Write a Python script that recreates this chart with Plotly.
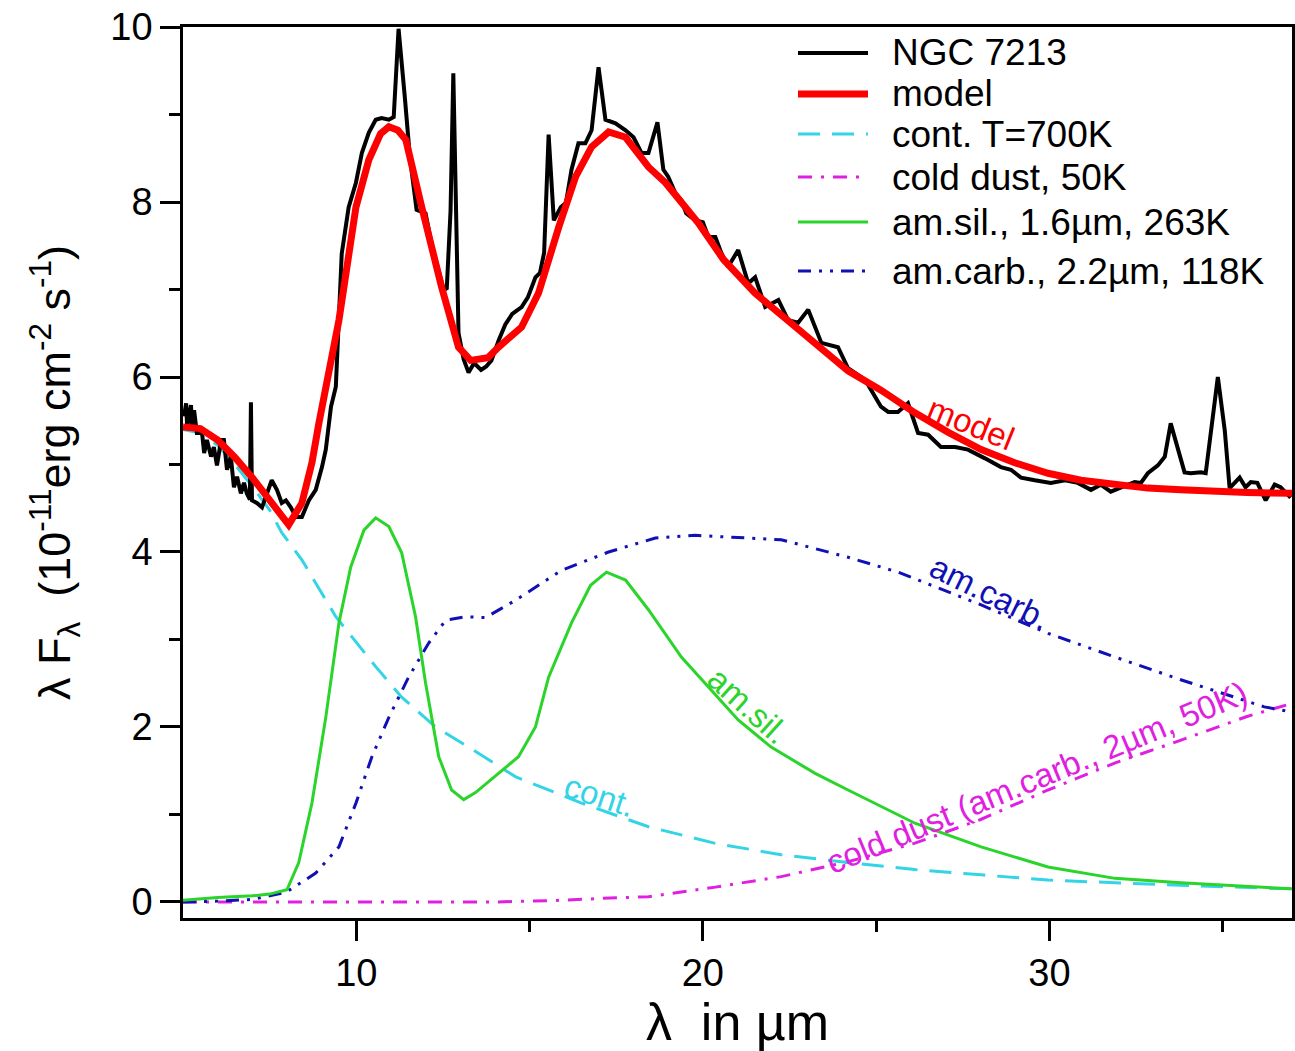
import plotly.graph_objects as go

# ---------------- data ----------------
obs_x = [5.03, 5.09, 5.12, 5.23, 5.27, 5.32, 5.40, 5.55, 5.61, 5.69, 5.81, 5.89, 5.98, 6.10,
         6.18, 6.27, 6.38, 6.47, 6.56, 6.67, 6.76, 6.84, 6.93, 6.96, 6.99, 7.13, 7.28, 7.42,
         7.56, 7.71, 7.85, 7.97, 8.11, 8.26, 8.43, 8.63, 8.83, 9.01, 9.12, 9.27, 9.41, 9.58,
         9.78, 9.99, 10.16, 10.36, 10.56, 10.73, 10.94, 11.08, 11.22, 11.40, 11.55, 11.74,
         12.00, 12.18, 12.38, 12.50, 12.61, 12.72, 12.80, 12.87, 12.95, 13.10, 13.24, 13.40,
         13.60, 13.75, 13.90, 14.11, 14.30, 14.50, 14.77, 14.95, 15.17, 15.30, 15.42, 15.55,
         15.70, 15.90, 16.05, 16.21, 16.41, 16.61, 16.79, 16.99, 17.19, 17.48, 17.77, 18.00,
         18.23, 18.43, 18.69, 18.86, 19.00, 19.21, 19.38, 19.52, 19.78, 20.00, 20.16, 20.36,
         20.53, 20.73, 21.02, 21.31, 21.51, 21.80, 22.18, 22.46, 22.75, 23.04, 23.42, 23.90,
         24.19, 24.68, 25.14, 25.35, 25.63, 25.92, 26.21, 26.50, 26.87, 27.28, 27.65, 28.14,
         28.60, 28.89, 29.18, 29.58, 30.04, 30.45, 30.82, 31.20, 31.48, 31.77, 32.06, 32.46,
         32.64, 32.84, 33.13, 33.33, 33.50, 33.70, 33.90, 34.08, 34.37, 34.51, 34.86, 35.06,
         35.20, 35.49, 35.66, 35.81, 36.00, 36.24, 36.50, 36.67, 36.96]
obs_y = [5.55, 5.70, 5.43, 5.68, 5.39, 5.62, 5.36, 5.36, 5.13, 5.28, 5.09, 5.20, 4.99, 5.28,
         5.28, 4.94, 5.09, 4.74, 4.86, 4.67, 4.79, 4.67, 4.60, 5.71, 4.59, 4.56, 4.51, 4.67,
         4.82, 4.71, 4.56, 4.59, 4.51, 4.40, 4.40, 4.59, 4.71, 4.97, 5.17, 5.66, 5.89, 7.41,
         7.94, 8.22, 8.56, 8.79, 8.94, 8.96, 8.94, 8.97, 9.98, 9.20, 8.50, 7.91,
         7.87, 7.51, 7.20, 7.03, 7.00, 7.90, 9.47, 7.90, 6.50, 6.20, 6.05, 6.16,
         6.08, 6.12, 6.19, 6.42, 6.60, 6.72, 6.80, 6.91, 7.14, 7.19, 7.42, 8.77,
         7.79, 7.94, 7.99, 8.37, 8.67, 8.67, 8.82, 9.54, 8.94, 8.90, 8.82, 8.74,
         8.56, 8.56, 8.91, 8.37, 8.29, 8.10, 8.02, 7.87, 7.79, 7.77, 7.60, 7.60,
         7.42, 7.26, 7.45, 7.07, 7.14, 6.80, 6.88, 6.65, 6.62, 6.77, 6.39, 6.34,
         6.10, 5.97, 5.66, 5.60, 5.60, 5.70, 5.36, 5.34, 5.20, 5.20, 5.17, 5.07,
         4.97, 4.94, 4.85, 4.82, 4.79, 4.82, 4.79, 4.71, 4.77, 4.69, 4.74, 4.80,
         4.79, 4.90, 4.99, 5.09, 5.47, 5.17, 4.91, 4.90, 4.91, 4.90, 6.00, 5.39,
         4.73, 4.85, 4.74, 4.80, 4.79, 4.59, 4.77, 4.74, 4.62]

model_x = [5.0, 5.5, 6.0, 6.5, 7.0, 7.5, 8.05, 8.43, 8.72, 8.92, 9.12, 9.5, 9.99, 10.36,
           10.7, 10.94, 11.2, 11.43, 11.89, 12.46, 12.95, 13.3, 13.8, 14.1, 14.77, 15.26,
           15.84, 16.33, 16.79, 17.28, 17.77, 18.43, 18.92, 19.87, 20.6, 21.5, 22.5, 23.3,
           24.19, 25.14, 26.12, 27.07, 28.03, 29.0, 29.96, 30.91, 31.89, 32.84, 33.79,
           34.77, 35.7, 37.0]
model_y = [5.43, 5.41, 5.28, 5.08, 4.85, 4.60, 4.31, 4.56, 5.02, 5.47, 5.85, 6.65, 7.94, 8.48,
           8.78, 8.86, 8.82, 8.71, 7.94, 7.03, 6.34, 6.19, 6.22, 6.34, 6.57, 6.96,
           7.71, 8.29, 8.63, 8.80, 8.74, 8.40, 8.22, 7.76, 7.34, 6.96, 6.63, 6.36,
           6.07, 5.85, 5.59, 5.37, 5.17, 5.02, 4.90, 4.82, 4.77, 4.73, 4.71,
           4.69, 4.68, 4.67]

cont_x = [5.0, 5.5, 6.0, 6.5, 7.0, 7.5, 7.85, 8.43, 9.41, 10.56, 11.31, 12.29, 13.24, 14.6,
          16.5, 18.43, 20.36, 22.26, 24.19, 26.12, 28.03, 29.96, 31.89, 33.79, 37.0]
cont_y = [5.40, 5.36, 5.22, 5.00, 4.75, 4.48, 4.22, 3.91, 3.26, 2.69, 2.34, 2.00, 1.77, 1.43,
          1.13, 0.86, 0.67, 0.54, 0.45, 0.37, 0.31, 0.25, 0.22, 0.19, 0.15]

cold_x = [5.0, 10.0, 14.0, 15.0, 16.0, 17.0, 18.43, 20.36, 22.26, 24.19, 26.1, 28.0, 29.96,
          31.9, 33.8, 35.7, 37.0]
cold_y = [0.0, 0.0, 0.0, 0.01, 0.02, 0.04, 0.06, 0.17, 0.29, 0.46, 0.67, 0.94, 1.28,
          1.59, 1.85, 2.12, 2.27]

sil_x = [5.0, 6.0, 7.0, 7.5, 8.0, 8.34, 8.72, 9.12, 9.5, 9.84, 10.22, 10.56, 10.94, 11.31,
         11.71, 12.0, 12.38, 12.75, 13.1, 13.44, 14.68, 15.17, 15.55, 16.21, 16.76, 17.22,
         17.77, 18.43, 19.38, 21.02, 21.97, 23.24, 24.19, 25.63, 26.12, 28.03, 29.96,
         31.89, 33.79, 37.0]
sil_y = [0.02, 0.05, 0.07, 0.09, 0.14, 0.45, 1.13, 2.11, 3.19, 3.83, 4.25, 4.39, 4.29, 3.99,
         3.26, 2.50, 1.66, 1.28, 1.17, 1.25, 1.66, 2.00, 2.57, 3.19, 3.62, 3.77,
         3.68, 3.34, 2.80, 2.08, 1.77, 1.47, 1.28, 0.99, 0.90, 0.63, 0.40,
         0.27, 0.22, 0.15]

carb_x = [5.0, 6.0, 7.0, 7.97, 8.83, 9.5, 9.99, 10.45, 10.94, 11.51, 12.09, 12.58, 13.15,
          13.73, 14.6, 15.92, 17.28, 18.63, 19.78, 20.82, 22.26, 24.19, 25.63, 28.0, 29.96,
          31.89, 33.79, 36.2, 37.0]
carb_y = [0.0, 0.01, 0.03, 0.11, 0.33, 0.63, 1.13, 1.66, 2.11, 2.57, 2.96, 3.22, 3.26,
          3.25, 3.45, 3.79, 4.00, 4.16, 4.19, 4.17, 4.14, 3.94, 3.77, 3.40, 3.07,
          2.80, 2.54, 2.23, 2.17]

x_ticks = [10, 20, 30]
y_ticks = [0, 2, 4, 6, 8, 10]

legend_labels = ["NGC 7213", "model", "cont. T=700K", "cold dust, 50K",
                 "am.sil., 1.6µm, 263K", "am.carb., 2.2µm, 118K"]

# ---------------- styles ----------------
FONT = "Liberation Sans, Arial, Helvetica, sans-serif"
C_OBS = "black"
C_MODEL = "#ff0000"
C_CONT = "#33d4e6"
C_COLD = "#e020e0"
C_SIL = "#2ad42a"
C_CARB = "#1010b4"

styles = [
    dict(color=C_OBS, width=4, dash="solid"),
    dict(color=C_MODEL, width=7, dash="solid"),
    dict(color=C_CONT, width=3, dash="22px,12px"),
    dict(color=C_COLD, width=3, dash="14px,9px,3px,9px"),
    dict(color=C_SIL, width=3, dash="solid"),
    dict(color=C_CARB, width=3, dash="13px,8px,3px,8px,3px,8px"),
]

fig = go.Figure()
series = [
    (cold_x, cold_y, 3),
    (cont_x, cont_y, 2),
    (carb_x, carb_y, 5),
    (sil_x, sil_y, 4),
    (obs_x, obs_y, 0),
    (model_x, model_y, 1),
]
for xs, ys, i in series:
    fig.add_trace(go.Scatter(x=xs, y=ys, mode="lines", name=legend_labels[i],
                             line=styles[i], showlegend=False, hoverinfo="skip"))

# ---------------- manual legend ----------------
L, R, T, B = 183, 1292, 27, 918
W, H = R - L, B - T
def px2paper(px, py):
    return (px - L) / W, (B - py) / H

row_py = [53, 94, 134, 177, 222, 271]
for i, (lab, py) in enumerate(zip(legend_labels, row_py)):
    x0, y0 = px2paper(798, py)
    x1, _ = px2paper(868, py)
    st = styles[i]
    fig.add_shape(type="line", xref="paper", yref="paper", x0=x0, x1=x1, y0=y0, y1=y0,
                  line=dict(color=st["color"], width=st["width"], dash=st["dash"]))
    tx, ty = px2paper(890, py)
    fig.add_annotation(xref="paper", yref="paper", x=tx, y=ty, text=lab, showarrow=False,
                       xanchor="left", yanchor="middle",
                       font=dict(family=FONT, size=37, color="black"))

# ---------------- curve labels ----------------
curve_labels = [
    ("model", 27.74, 5.47, 22, C_MODEL),
    ("am.carb.", 28.28, 3.54, 26, C_CARB),
    ("am.sil.", 21.31, 2.25, 42, C_SIL),
    ("cont.", 17.02, 1.22, 18, C_CONT),
    ("cold dust (am.carb., 2µm, 50K)", 29.64, 1.42, -22.5, C_COLD),
]
for txt, xx, yy, ang, col in curve_labels:
    fig.add_annotation(x=xx, y=yy, xref="x", yref="y", text=txt, showarrow=False,
                       textangle=ang, font=dict(family=FONT, size=33, color=col))

axis_common = dict(showline=True, linewidth=2.5, linecolor="black", mirror=True,
                   showgrid=False, zeroline=False, ticks="outside", ticklen=20,
                   tickwidth=2.5, tickcolor="black",
                   tickfont=dict(family=FONT, size=38, color="black"))

fig.update_xaxes(range=[5, 37], tickvals=x_ticks,
                 minor=dict(tickvals=[15, 25, 35], ticks="outside", ticklen=11,
                            tickwidth=2.5, tickcolor="black"),
                 title=dict(text="λ  in µm", font=dict(family=FONT, size=52, color="black"),
                            standoff=4),
                 **axis_common)
fig.update_yaxes(range=[-0.183, 10], tickvals=y_ticks,
                 minor=dict(tickvals=[1, 3, 5, 7, 9], ticks="outside", ticklen=11,
                            tickwidth=2.5, tickcolor="black"),
                 title=dict(text="λ F<sub>λ</sub>  (10<sup>-11</sup>erg cm<sup>-2</sup> s<sup>-1</sup>)",
                            font=dict(family=FONT, size=45, color="black"), standoff=26),
                 **axis_common)

fig.update_layout(width=1295, height=1051, plot_bgcolor="white", paper_bgcolor="white",
                  margin=dict(l=L, r=1295 - R, t=T, b=1051 - B, autoexpand=False),
                  showlegend=False, font=dict(family=FONT))

fig.write_html("out.html", config={"displayModeBar": False},
               post_script="document.body.style.margin='0px';"
                           "document.body.style.overflow='hidden';")
